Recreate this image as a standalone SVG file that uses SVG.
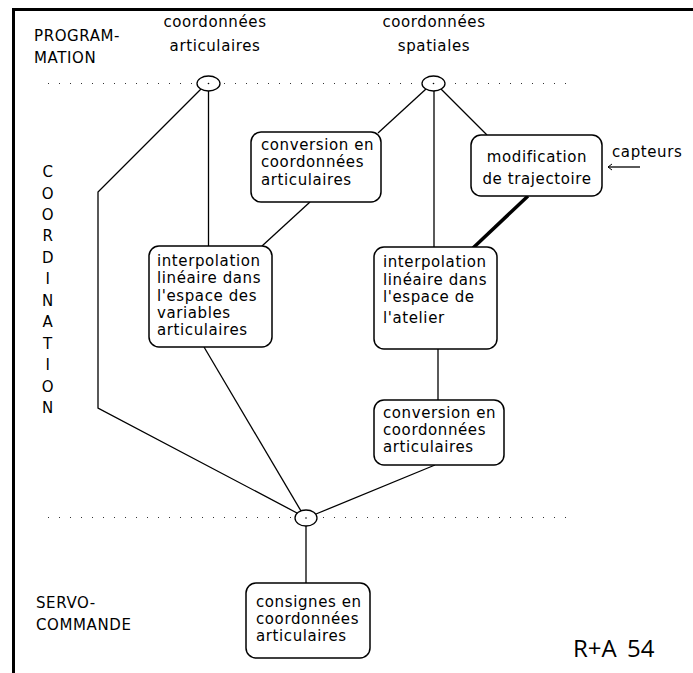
<svg xmlns="http://www.w3.org/2000/svg" width="693" height="673" viewBox="0 0 693 673">
  <style>
    .t { font-family: "DejaVu Sans", Verdana, sans-serif; font-size: 15px; letter-spacing: 0.6px; fill: #000; }
    .c { text-anchor: middle; }
    .box { fill: #fff; stroke: #000; stroke-width: 1.5; }
    .wire { fill: none; stroke: #000; stroke-width: 1.3; }
    .thick { fill: none; stroke: #000; stroke-width: 3.5; }
    .dots { fill: none; stroke: #333; stroke-width: 1; stroke-dasharray: 1 10; }
    .node { fill: #fff; stroke: #000; stroke-width: 1.3; }
    .frame { fill: none; stroke: #000; stroke-width: 3; }
  </style>
  <defs>
    <marker id="open" viewBox="0 0 8 8" refX="7" refY="4" markerWidth="8" markerHeight="8" markerUnits="userSpaceOnUse" orient="auto">
      <path d="M3,1 L7,4 L3,7" fill="none" stroke="#000" stroke-width="1"/>
    </marker>
  </defs>

  <rect width="693" height="673" fill="#fff"/>

  <!-- frame: top and left rules -->
  <path class="frame" d="M13.5,673 V9.5 H693"/>

  <!-- level separators -->
  <line class="dots" x1="48" y1="83.5" x2="576" y2="83.5"/>
  <line class="dots" x1="48" y1="517.5" x2="576" y2="517.5"/>

  <!-- level labels -->
  <g id="level-labels">
    <text class="t" x="34" y="41">PROGRAM-</text>
    <text class="t" x="34" y="63">MATION</text>
    <text class="t" x="36" y="608">SERVO-</text>
    <text class="t" x="36" y="630">COMMANDE</text>
    <g class="t c">
      <text x="48" y="177">C</text>
      <text x="48" y="198.5">O</text>
      <text x="48" y="220">O</text>
      <text x="48" y="241.4">R</text>
      <text x="48" y="262.8">D</text>
      <text x="48" y="284.3">I</text>
      <text x="48" y="305.7">N</text>
      <text x="48" y="327.2">A</text>
      <text x="48" y="348.6">T</text>
      <text x="48" y="370">I</text>
      <text x="48" y="391.5">O</text>
      <text x="48" y="413">N</text>
    </g>
  </g>

  <!-- connectors -->
  <g id="connectors">
    <polyline class="wire" points="201,89 98,192 98,408 297,513"/>
    <line class="wire" x1="208.5" y1="91" x2="208.5" y2="246"/>
    <line class="wire" x1="310" y1="202" x2="262" y2="246"/>
    <line class="wire" x1="426" y1="89" x2="378" y2="133"/>
    <line class="wire" x1="434" y1="91" x2="434" y2="247"/>
    <line class="wire" x1="441" y1="89" x2="487" y2="135"/>
    <line class="thick" x1="528" y1="196" x2="473" y2="248"/>
    <line class="wire" x1="438" y1="349" x2="438" y2="400"/>
    <line class="wire" x1="435" y1="465" x2="316" y2="514"/>
    <line class="wire" x1="204" y1="347" x2="301" y2="511"/>
    <line class="wire" x1="306" y1="526" x2="306" y2="583"/>
    <line class="wire" x1="640" y1="167" x2="608" y2="167" marker-end="url(#open)"/>
  </g>

  <!-- junction nodes -->
  <g id="junction-joint">
    <ellipse class="node" cx="208.5" cy="83.5" rx="11.5" ry="7.5"/>
    <circle cx="208.5" cy="83.5" r="0.8" fill="#000"/>
  </g>
  <g id="junction-space">
    <ellipse class="node" cx="433.5" cy="83.5" rx="11.5" ry="7.5"/>
    <circle cx="433.5" cy="83.5" r="0.8" fill="#000"/>
  </g>
  <g id="junction-servo">
    <ellipse class="node" cx="306" cy="518" rx="11" ry="8"/>
    <circle cx="306" cy="518" r="0.8" fill="#000"/>
  </g>

  <!-- input labels -->
  <g id="input-joint">
    <text class="t c" x="215" y="27">coordonnées</text>
    <text class="t c" x="215" y="51">articulaires</text>
  </g>
  <g id="input-space">
    <text class="t c" x="434" y="27">coordonnées</text>
    <text class="t c" x="434" y="51">spatiales</text>
  </g>
  <g id="sensors">
    <text class="t" x="612" y="157">capteurs</text>
  </g>

  <!-- processing boxes -->
  <g id="conversion-top">
    <rect class="box" x="251" y="132" width="130" height="70" rx="10"/>
    <text class="t" x="261" y="150">conversion en</text>
    <text class="t" x="261" y="167">coordonnées</text>
    <text class="t" x="261" y="185">articulaires</text>
  </g>
  <g id="trajectory-modification">
    <rect class="box" x="471" y="135" width="131" height="61" rx="10"/>
    <text class="t c" x="537" y="162">modification</text>
    <text class="t c" x="537" y="184">de trajectoire</text>
  </g>
  <g id="interpolation-joint">
    <rect class="box" x="149" y="246" width="123" height="101" rx="10"/>
    <text class="t" x="157" y="266">interpolation</text>
    <text class="t" x="157" y="283.3">linéaire dans</text>
    <text class="t" x="157" y="300.6">l'espace des</text>
    <text class="t" x="157" y="317.9">variables</text>
    <text class="t" x="157" y="335.2">articulaires</text>
  </g>
  <g id="interpolation-workspace">
    <rect class="box" x="374" y="247" width="123" height="102" rx="10"/>
    <text class="t" x="383" y="267">interpolation</text>
    <text class="t" x="383" y="284.5">linéaire dans</text>
    <text class="t" x="383" y="302">l'espace de</text>
    <text class="t" x="383" y="323">l'atelier</text>
  </g>
  <g id="conversion-bottom">
    <rect class="box" x="374" y="400" width="130" height="65" rx="10"/>
    <text class="t" x="383" y="418">conversion en</text>
    <text class="t" x="383" y="435">coordonnées</text>
    <text class="t" x="383" y="452">articulaires</text>
  </g>
  <g id="joint-setpoints">
    <rect class="box" x="246" y="583" width="124" height="75" rx="10"/>
    <text class="t" x="256" y="607">consignes en</text>
    <text class="t" x="256" y="624">coordonnées</text>
    <text class="t" x="256" y="641">articulaires</text>
  </g>

  <text x="573" y="657" font-family="'Open Sans', 'DejaVu Sans', sans-serif" font-size="24" word-spacing="4" fill="#000">R+A 54</text>
</svg>
